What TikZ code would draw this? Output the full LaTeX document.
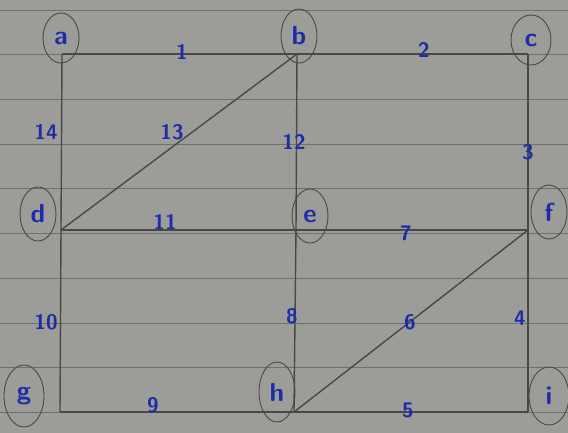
\documentclass[tikz,border=0pt]{standalone}
\usepackage{tikz}
\usepackage{xcolor}
\usetikzlibrary{shapes.geometric}
\definecolor{paper}{RGB}{156,157,152}
\definecolor{rule}{RGB}{108,114,106}
\definecolor{pencil}{RGB}{72,72,72}
\definecolor{ink}{RGB}{30,44,168}
\tikzset{
  vtx/.style={draw=pencil,line width=0.9pt,ellipse,minimum width=36pt,minimum height=54pt,inner sep=0pt,
    text=ink,font=\sffamily\bfseries\fontsize{26}{26}\selectfont},
  wt/.style={text=ink,font=\sffamily\bfseries\fontsize{21}{21}\selectfont},
  edge/.style={draw=pencil,line width=1.4pt}
}
\begin{document}
\begin{tikzpicture}[x=1pt,y=-1pt]
        \fill[paper] (0,0) rectangle (568,433);
        \useasboundingbox (0,0) rectangle (568,433);
        % ruled paper
        \foreach \k in {0,...,9}
            \draw[rule,line width=0.8pt] (0,10+44.7*\k) -- (568,10+44.7*\k);
        % grid corners
        \coordinate (a) at (62,54);
        \coordinate (b) at (297,54);
        \coordinate (c) at (528,54);
        \coordinate (d) at (61,230);
        \coordinate (e) at (296,230);
        \coordinate (f) at (528,230);
        \coordinate (g) at (60,412);
        \coordinate (h) at (294,412);
        \coordinate (i) at (528,412);
        % edges
        \draw[edge] (a) -- (b);
        \draw[edge] (b) -- (c);
        \draw[edge] (a) -- (d);
        \draw[edge] (d) -- (b);
        \draw[edge] (b) -- (e);
        \draw[edge] (c) -- (f);
        \draw[edge] (d) -- (e);
        \draw[edge] (e) -- (f);
        \draw[edge] (d) -- (g);
        \draw[edge] (e) -- (h);
        \draw[edge] (h) -- (f);
        \draw[edge] (f) -- (i);
        \draw[edge] (g) -- (h);
        \draw[edge] (h) -- (i);
        % vertices
        \node[vtx,minimum height=50pt] (na) at (61,38) {a};
        \node[vtx] (nb) at (299,36) {b};
        \node[vtx,minimum width=40pt,minimum height=50pt] (nc) at (531,40) {c};
        \node[vtx] (nd) at (38,214) {d};
        \node[vtx] (ne) at (310,216) {e};
        \node[vtx] (nf) at (549,212) {f};
        \node[vtx,minimum width=40pt,minimum height=62pt] (ng) at (24,396) {g};
        \node[vtx,minimum height=60pt] (nh) at (277,392) {h};
        \node[vtx,minimum width=40pt,minimum height=58pt] (ni) at (549,396) {i};
        % weights
        \node[wt] (w1) at (182,52) {1};
        \node[wt] (w2) at (424,50) {2};
        \node[wt] (w14) at (46,132) {14};
        \node[wt] (w13) at (172,132) {13};
        \node[wt] (w12) at (294,142) {12};
        \node[wt] (w3) at (528,152) {3};
        \node[wt] (w11) at (165,222) {11};
        \node[wt] (w7) at (406,233) {7};
        \node[wt] (w10) at (46,322) {10};
        \node[wt] (w8) at (292,316) {8};
        \node[wt] (w6) at (410,322) {6};
        \node[wt] (w4) at (520,318) {4};
        \node[wt] (w9) at (153,405) {9};
        \node[wt] (w5) at (408,410) {5};
\end{tikzpicture}
\end{document}
